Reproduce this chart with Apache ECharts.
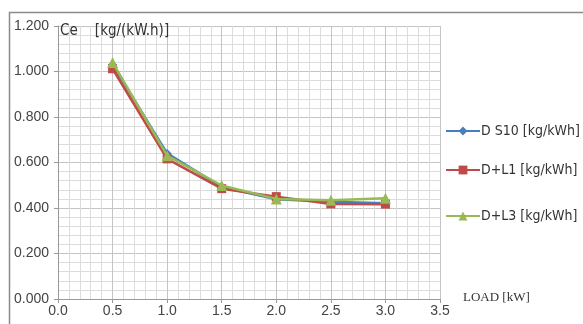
<!DOCTYPE html>
<html><head><meta charset="utf-8">
<script src="https://cdn.jsdelivr.net/npm/echarts@6/dist/echarts.min.js"></script>
<style>html,body{margin:0;padding:0;background:#fff}#c{width:583px;height:324px}</style>
</head><body><div id="c"></div>
<script>
var loads = [0.5, 1.0, 1.5, 2.0, 2.5, 3.0];
var ds10 = [1.030, 0.640, 0.492, 0.438, 0.428, 0.421];
var dl1 = [1.012, 0.616, 0.485, 0.450, 0.418, 0.417];
var dl3 = [1.040, 0.630, 0.499, 0.440, 0.434, 0.443];
var names = ['D S10 [kg/kWh]', 'D+L1 [kg/kWh]', 'D+L3 [kg/kWh]'];
var colors = ['#4a7ebb', '#be4b48', '#98b954'];
var markers = ['diamond', 'rect', 'triangle'];
var legendTops = [119, 158, 204];
var seriesVals = [ds10, dl1, dl3];

function pairs(v){ return loads.map(function(x,i){ return [x, v[i]]; }); }
var font = '"Liberation Sans", sans-serif';
var cfont = '"DejaVu Sans Condensed", "Liberation Sans", sans-serif';

var chart = echarts.init(document.getElementById('c'), null, {renderer:'canvas'});
chart.setOption({
  animation: false,
  backgroundColor: '#fff',
  grid: {left: 58, right: 143, top: 26, bottom: 25, containLabel: false},
  xAxis: {
    type: 'value', min: 0, max: 3.5, interval: 0.5,
    axisLine: {show: true, lineStyle: {color: '#999', width: 1}},
    axisTick: {show: true, length: 4, lineStyle: {color: '#999'}},
    axisLabel: {color: '#444', fontSize: 14, fontFamily: font, margin: 5,
      formatter: function(v){ return v.toFixed(1); }},
    splitLine: {show: true, lineStyle: {color: '#c4c4c4', width: 1}},
    minorTick: {show: false, splitNumber: 5},
    minorSplitLine: {show: true, lineStyle: {color: '#dcdcdc', width: 1}}
  },
  yAxis: {
    type: 'value', min: 0, max: 1.2, interval: 0.2,
    axisLine: {show: true, lineStyle: {color: '#999', width: 1}},
    axisTick: {show: true, length: 4, lineStyle: {color: '#999'}},
    axisLabel: {color: '#444', fontSize: 14, fontFamily: font, margin: 9,
      formatter: function(v){ return v.toFixed(3); }},
    splitLine: {show: true, lineStyle: {color: '#c4c4c4', width: 1}},
    minorTick: {show: false, splitNumber: 5},
    minorSplitLine: {show: true, lineStyle: {color: '#dcdcdc', width: 1}}
  },
  legend: names.map(function(n, i){
    return {
      data: [n], orient: 'vertical', left: 440, top: legendTops[i],
      itemWidth: 34, itemHeight: 11, itemGap: 4,
      textStyle: {color: '#333', fontSize: 14, fontFamily: cfont, padding: [0,0,0,-4]}
    };
  }),
  graphic: [
    {type: 'rect', shape: {x: 9.5, y: 12.5, width: 600, height: 400}, style: {fill: 'none', stroke: '#8a8a8a', lineWidth: 1.5}, silent: true, z: -1},
    {type: 'text', left: 60, top: 24, z: 10, style: {text: 'Ce    [kg/(kW.h)]', fill: '#333', font: '15px ' + cfont}},
    {type: 'text', left: 463, top: 291, style: {text: 'LOAD [kW]', fill: '#333', font: '13px "Liberation Serif", serif'}}
  ],
  series: seriesVals.map(function(v, i){
    return {
      name: names[i], type: 'line', data: pairs(v),
      symbol: markers[i], symbolSize: i === 2 ? 11 : 9,
      lineStyle: {color: colors[i], width: 2.5},
      itemStyle: {color: colors[i]},
      z: 3 + i
    };
  })
});
</script></body></html>
